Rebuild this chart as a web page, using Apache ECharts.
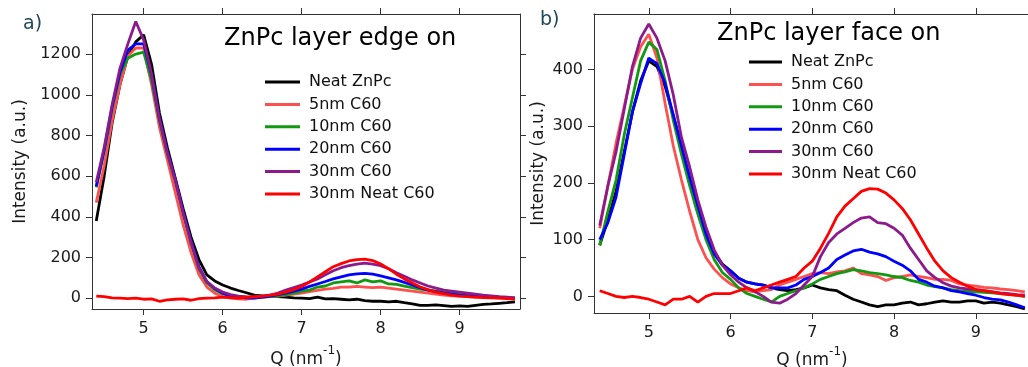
<!DOCTYPE html>
<html>
<head>
<meta charset="utf-8">
<title>ZnPc layer edge on / face on</title>
<script src="https://cdn.jsdelivr.net/npm/echarts@6/dist/echarts.min.js"></script>
<style>
  html, body { margin: 0; padding: 0; background: #fff; }
  #chart { width: 1028px; height: 367px; }
</style>
</head>
<body>
<div id="chart"></div>
<script>
// Q values (nm^-1) for each panel
var qA = [4.4, 4.5, 4.6, 4.7, 4.8, 4.9, 5.0, 5.1, 5.2, 5.3,
  5.4, 5.5, 5.6, 5.7, 5.8, 5.9, 6.0, 6.1, 6.2, 6.3,
  6.4, 6.5, 6.6, 6.7, 6.8, 6.9, 7.0, 7.1, 7.2, 7.3,
  7.4, 7.5, 7.6, 7.7, 7.8, 7.9, 8.0, 8.1, 8.2, 8.3,
  8.4, 8.5, 8.6, 8.7, 8.8, 8.9, 9.0, 9.1, 9.2, 9.3,
  9.4, 9.5, 9.6, 9.7];
var qB = [4.4, 4.5, 4.6, 4.7, 4.8, 4.9, 5.0, 5.1, 5.2, 5.3,
  5.4, 5.5, 5.6, 5.7, 5.8, 5.9, 6.0, 6.1, 6.2, 6.3,
  6.4, 6.5, 6.6, 6.7, 6.8, 6.9, 7.0, 7.1, 7.2, 7.3,
  7.4, 7.5, 7.6, 7.7, 7.8, 7.9, 8.0, 8.1, 8.2, 8.3,
  8.4, 8.5, 8.6, 8.7, 8.8, 8.9, 9.0, 9.1, 9.2, 9.3,
  9.4, 9.5, 9.6];

var names = ['Neat ZnPc', '5nm C60', '10nm C60', '20nm C60', '30nm C60', '30nm Neat C60'];

// a) edge on
var neatZnPcA = [380, 600, 860, 1050, 1190, 1260, 1295, 1150, 910, 740,
  590, 440, 300, 190, 115, 85, 65, 50, 38, 27,
  15, 12, 10, 8, 5, 2, 0, -2, 5, -3,
  -2, -5, -8, -5, -12, -15, -15, -18, -15, -22,
  -28, -35, -35, -33, -36, -40, -38, -40, -35, -30,
  -28, -25, -22, -18];
var c5A = [470, 650, 870, 1050, 1190, 1230, 1230, 1050, 840, 680,
  520, 360, 225, 115, 55, 25, 8, 0, -3, -5,
  0, 5, 8, 10, 15, 20, 25, 32, 38, 45,
  48, 55, 55, 58, 55, 52, 55, 50, 45, 40,
  35, 30, 25, 20, 15, 12, 10, 8, 6, 5,
  4, 2, 0, -2];
var c10A = [545, 720, 930, 1100, 1180, 1200, 1210, 1070, 870, 710,
  575, 415, 270, 145, 75, 42, 22, 12, 8, 5,
  3, 5, 8, 12, 18, 25, 35, 40, 55, 60,
  75, 80, 85, 75, 90, 80, 85, 70, 68, 60,
  52, 45, 40, 35, 30, 28, 25, 18, 15, 10,
  8, 5, 2, 0];
var c20A = [550, 730, 940, 1110, 1220, 1250, 1250, 1100, 885, 720,
  585, 425, 280, 155, 82, 48, 25, 12, 6, 2,
  0, 5, 10, 18, 25, 35, 45, 58, 70, 82,
  95, 105, 115, 120, 122, 118, 110, 100, 90, 78,
  65, 52, 40, 32, 25, 20, 15, 12, 10, 8,
  6, 4, 2, 0];
var c30A = [570, 740, 950, 1130, 1250, 1360, 1270, 1100, 880, 715,
  580, 420, 275, 150, 80, 50, 30, 18, 10, 6,
  5, 10, 15, 25, 40, 52, 65, 80, 95, 115,
  135, 150, 160, 168, 172, 168, 160, 145, 125, 108,
  90, 75, 60, 50, 40, 35, 30, 25, 20, 15,
  12, 8, 5, 2];
var neatC60A = [10, 8, 2, 0, -2, 0, -5, -3, -15, -8,
  -5, -3, -10, -2, 0, 2, 5, 3, 0, 5,
  8, 10, 15, 20, 30, 42, 58, 80, 105, 130,
  155, 170, 183, 190, 192, 185, 168, 145, 118, 95,
  75, 55, 42, 30, 22, 15, 10, 8, 5, 3,
  2, 0, -2, -4];

// b) face on
var neatZnPcB = [90, 135, 185, 255, 325, 380, 415, 405, 370, 318,
  262, 208, 160, 112, 78, 57, 45, 32, 25, 22,
  20, 15, 12, 10, 12, 15, 20, 15, 12, 10,
  2, -5, -10, -15, -18, -15, -15, -12, -10, -15,
  -13, -10, -8, -10, -10, -8, -8, -12, -10, -12,
  -15, -18, -22];
var c5B = [120, 195, 270, 335, 400, 440, 462, 420, 340, 265,
  205, 150, 100, 68, 48, 33, 22, 15, 10, 8,
  10, 12, 20, 25, 30, 35, 40, 42, 40, 43,
  45, 50, 40, 38, 35, 28, 33, 35, 38, 35,
  33, 30, 30, 28, 22, 20, 18, 16, 15, 13,
  12, 10, 8];
var c10B = [90, 150, 205, 285, 350, 415, 448, 435, 380, 310,
  250, 195, 145, 100, 65, 42, 30, 15, 5, 0,
  -5, -10, 0, 5, 10, 15, 22, 30, 35, 40,
  43, 47, 45, 42, 40, 38, 35, 33, 28, 25,
  20, 17, 15, 12, 10, 9, 8, 7, 6, 5,
  4, 2, 0];
var c20B = [100, 130, 175, 250, 325, 375, 420, 410, 375, 320,
  265, 210, 160, 110, 75, 55, 45, 32, 25, 22,
  20, 15, 15, 15, 20, 30, 35, 42, 50, 65,
  73, 80, 83, 78, 75, 70, 62, 55, 45, 30,
  25, 18, 15, 10, 8, 5, 2, -2, -5, -6,
  -10, -15, -20];
var c30B = [125, 195, 255, 330, 405, 455, 480, 455, 415, 355,
  280, 228, 170, 122, 82, 55, 38, 25, 15, 8,
  0, -10, -12, -5, 5, 20, 35, 70, 95, 110,
  120, 130, 138, 140, 130, 128, 120, 108, 85, 65,
  45, 33, 24, 18, 15, 13, 12, 10, 8, 6,
  5, 3, 2];
var neatC60B = [10, 5, 0, -2, 0, -2, -5, -10, -15, -5,
  -5, 0, -10, 0, 5, 5, 5, 10, 15, 10,
  15, 20, 25, 30, 35, 50, 62, 85, 111, 140,
  159, 172, 185, 190, 189, 182, 170, 155, 135, 110,
  85, 62, 45, 33, 25, 18, 12, 10, 8, 5,
  3, 2, 0];

// tick labels
var xTicks = [5, 6, 7, 8, 9];
var yTicksA = [0, 200, 400, 600, 800, 1000, 1200];
var yTicksB = [0, 100, 200, 300, 400];

var colors = ['#000000', '#ff5050', '#119911', '#0000ff', '#8c1a8c', '#ff0000'];
var font = 'DejaVu Sans';
var axisColor = '#333';

function pairs(q, vals) {
  return q.map(function (x, i) { return [x, vals[i]]; });
}

function makeX(grid, min, max, pos, nameGap) {
  var withName = nameGap > 0;
  var ax = {
    type: 'value', gridIndex: grid, min: min, max: max, position: pos,
    axisLine: { show: true, onZero: false, lineStyle: { color: axisColor, width: 1 } },
    axisTick: { show: true, length: 6, customValues: xTicks, lineStyle: { color: axisColor } },
    axisLabel: { show: withName, customValues: xTicks, fontSize: 16, margin: 12, color: '#1a1a1a', fontFamily: font },
    splitLine: { show: false }
  };
  if (withName) {
    ax.name = '{a|Q (nm}{s|-1}{a|)}';
    ax.nameLocation = 'middle';
    ax.nameGap = nameGap;
    ax.nameTextStyle = {
      rich: {
        a: { fontSize: 17, fontFamily: font, color: '#1a1a1a' },
        s: { fontSize: 12, fontFamily: font, color: '#1a1a1a', padding: [0, 0, 18, 0] }
      }
    };
  }
  return ax;
}

function makeY(grid, min, max, pos, ticks, gap) {
  var left = pos === 'left';
  var ax = {
    type: 'value', gridIndex: grid, min: min, max: max, position: pos,
    axisLine: { show: true, onZero: false, lineStyle: { color: axisColor, width: 1 } },
    axisTick: { show: true, length: 6, customValues: ticks, lineStyle: { color: axisColor } },
    axisLabel: {
      show: left, customValues: ticks, fontSize: 16, margin: 11, color: '#1a1a1a', fontFamily: font,
      formatter: function (v) { return String(v); }
    },
    splitLine: { show: false }
  };
  if (left) {
    ax.name = 'Intensity (a.u.)';
    ax.nameLocation = 'middle';
    ax.nameGap = gap;
    ax.nameRotate = 90;
    ax.nameTextStyle = { fontSize: 17, fontFamily: font, color: '#1a1a1a' };
  }
  return ax;
}

var series = [];
[neatZnPcA, c5A, c10A, c20A, c30A, neatC60A].forEach(function (vals, i) {
  series.push({
    name: names[i], type: 'line', xAxisIndex: 0, yAxisIndex: 0,
    data: pairs(qA, vals), symbol: 'none', showSymbol: false,
    lineStyle: { width: 2.8, color: colors[i] }, itemStyle: { color: colors[i] }
  });
});
[neatZnPcB, c5B, c10B, c20B, c30B, neatC60B].forEach(function (vals, i) {
  series.push({
    name: names[i], type: 'line', xAxisIndex: 1, yAxisIndex: 1,
    data: pairs(qB, vals), symbol: 'none', showSymbol: false,
    lineStyle: { width: 2.8, color: colors[i] }, itemStyle: { color: colors[i] }
  });
});

function legendAt(left, top, w) {
  return {
    data: names, orient: 'vertical', left: left, top: top, padding: 0,
    icon: 'rect', itemWidth: w, itemHeight: 3, itemGap: 6.4, selectedMode: false,
    textStyle: { fontSize: 16, fontFamily: font, color: '#111', padding: [0, 0, 0, 4] }
  };
}

function titleAt(text, left, top, size, color) {
  return {
    text: text, left: left, top: top, padding: 0,
    textStyle: { fontSize: size, fontWeight: 'normal', fontFamily: font, color: color }
  };
}

var chart = echarts.init(document.getElementById('chart'));
var option = {
  animation: false,
  backgroundColor: '#fff',
  title: [
    titleAt('a)', 23, 15, 19, '#1f4656'),
    titleAt('ZnPc layer edge on', 224, 27, 24, '#000'),
    titleAt('b)', 540, 11, 19, '#1f4656'),
    titleAt('ZnPc layer face on', 717, 22, 24, '#000')
  ],
  legend: [legendAt(265, 74, 35), legendAt(749, 54, 33)],
  grid: [
    { left: 92, top: 14, width: 428, height: 295, outerBoundsMode: 'none' },
    { left: 594, top: 14, width: 436, height: 299, outerBoundsMode: 'none' }
  ],
  xAxis: [
    makeX(0, 4.346, 9.764, 'bottom', 36),
    makeX(1, 4.33, 9.663, 'bottom', 32),
    makeX(0, 4.346, 9.764, 'top', 0),
    makeX(1, 4.33, 9.663, 'top', 0)
  ],
  yAxis: [
    makeY(0, -53, 1397, 'left', yTicksA, 63),
    makeY(1, -29.3, 497.6, 'left', yTicksB, 47),
    makeY(0, -53, 1397, 'right', yTicksA, 0),
    makeY(1, -29.3, 497.6, 'right', yTicksB, 0)
  ],
  series: series
};
chart.setOption(option);
</script>
</body>
</html>
